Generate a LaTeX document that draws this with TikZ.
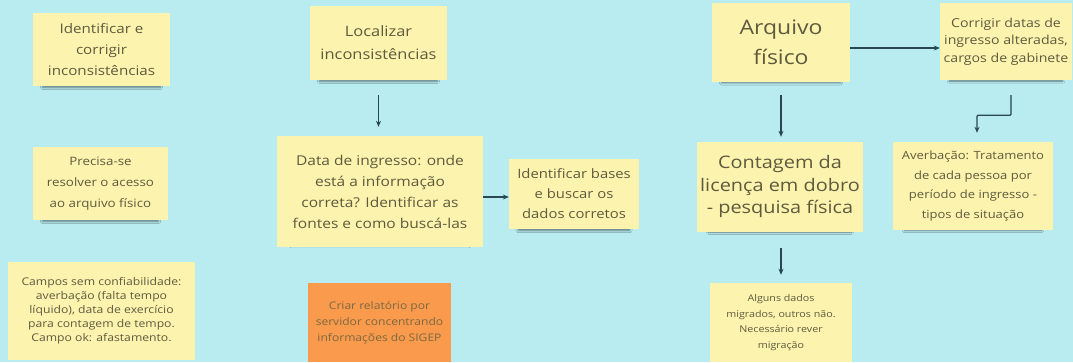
\documentclass[tikz,border=0pt]{standalone}
\usepackage{fontspec}
\setmainfont{Open Sans}[FakeStretch=1.15]
\usetikzlibrary{arrows.meta,shadows.blur}
\definecolor{bgc}{HTML}{B9ECF1}
\definecolor{notec}{HTML}{FCF3AE}
\definecolor{orangec}{HTML}{F99A4C}
\definecolor{txtc}{HTML}{5E5A3E}
\definecolor{arrc}{HTML}{284656}
\newcommand{\fs}[2]{\fontsize{#1}{#2}\selectfont}
\tikzset{
  note/.style={fill=notec, draw=none, inner sep=2pt, align=center, text=txtc,
    blur shadow={shadow xshift=0pt, shadow yshift=-7.5pt, shadow blur radius=2.5pt, shadow opacity=50, shadow scale=0.86}},
  flat/.style={fill=notec, draw=none, inner sep=2pt, align=center, text=txtc},
  conn/.style={draw=arrc, line width=1.2pt, -{Stealth[length=6pt,width=5pt]}},
}
\begin{document}
\begin{tikzpicture}[x=1pt,y=-1pt]
\fill[bgc] (0,0) rectangle (1073,362);
\useasboundingbox (0,0) rectangle (1073,362);
% left column
\node[note, minimum width=137pt, minimum height=73pt, font=\fs{13.2}{21}] (A) at (101.5,49.5)
  {Identificar e\\corrigir\\inconsistências};
\node[note, minimum width=135pt, minimum height=73pt, font=\fs{11.6}{21}] (B) at (100.5,183.5)
  {Precisa-se\\resolver o acesso\\ao arquivo físico};
\node[flat, minimum width=187pt, minimum height=98pt, font=\fs{10.6}{14}] (C) at (101.5,311)
  {Campos sem confiabilidade:\\averbação (falta tempo\\líquido), data de exercício\\para contagem de tempo.\\Campo ok: afastamento.};
% middle column
\node[note, minimum width=137pt, minimum height=74pt, font=\fs{14.3}{23}] (D) at (378.5,43)
  {Localizar\\inconsistências};
\node[note, minimum width=206pt, minimum height=111pt, font=\fs{13.5}{21}] (E) at (380,191.5)
  {Data de ingresso: onde\\está a informação\\correta? Identificar as\\fontes e como buscá-las};
\node[note, minimum width=130pt, minimum height=70pt, font=\fs{12.9}{20}] (F) at (574,194)
  {Identificar bases\\e buscar os\\dados corretos};
\node[fill=orangec, inner sep=2pt, align=center, text=txtc!80!orangec, minimum width=143pt, minimum height=79pt, font=\fs{10.5}{16}] (G) at (379.5,322.5)
  {Criar relatório por\\servidor concentrando\\informações do SIGEP};
% right part
\node[note, minimum width=138pt, minimum height=79pt, font=\fs{20}{30}] (H) at (781,42.5)
  {Arquivo\\físico};
\node[note, minimum width=132pt, minimum height=77pt, font=\fs{12.3}{17.5}] (I) at (1006,41.5)
  {Corrigir datas de\\ingresso alteradas,\\cargos de gabinete};
\node[note, minimum width=166pt, minimum height=90pt, font=\fs{17.3}{22.5}] (J) at (780,187)
  {Contagem da\\licença em dobro\\- pesquisa física};
\node[note, minimum width=160pt, minimum height=88pt, font=\fs{11.3}{19.5}] (K) at (973,186)
  {Averbação: Tratamento\\de cada pessoa por\\período de ingresso -\\tipos de situação};
\node[flat, minimum width=142pt, minimum height=79pt, font=\fs{9.3}{15.5}] (L) at (781,322.5)
  {Alguns dados\\migrados, outros não.\\Necessário rever\\migração};
% connectors
\draw[conn, shorten <=15pt, shorten >=9pt] (D.south) -- (E.north -| D.south);
\draw[conn] ([yshift=-5.5pt]E.east) -- ([yshift=-5.5pt]E.east -| F.west);
\draw[conn] ([yshift=-5.5pt]H.east) -- ([yshift=-5.5pt]H.east -| I.west);
\draw[conn, shorten <=13pt, shorten >=5pt] (H.south) -- (J.north -| H.south);
\draw[conn, shorten <=16pt, shorten >=8pt] (J.south -| H.south) -- (L.north -| H.south);
\draw[conn, rounded corners=1pt] ([xshift=5pt,yshift=-15pt]I.south) -- ++(0,20) -| ([xshift=4pt,yshift=9pt]K.north);
\end{tikzpicture}
\end{document}
